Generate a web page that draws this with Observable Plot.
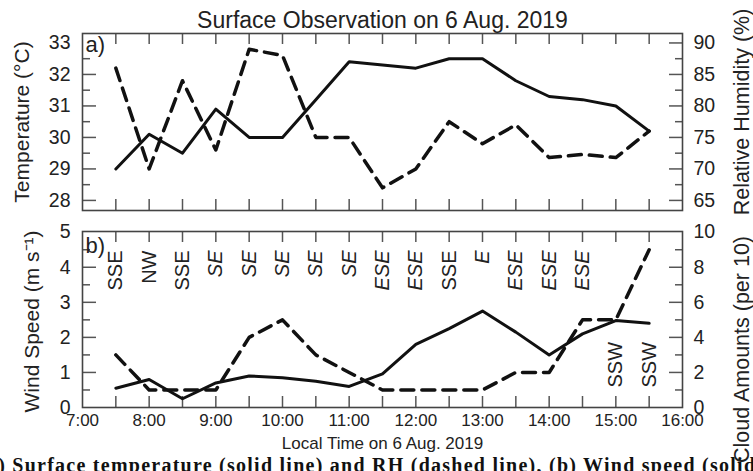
<!DOCTYPE html>
<html><head><meta charset="utf-8">
<script src="https://cdn.jsdelivr.net/npm/d3@7"></script>
<script src="https://cdn.jsdelivr.net/npm/@observablehq/plot@0.6"></script>
<style>
body{margin:0;background:#fff;}
#wrap{position:relative;width:753px;height:471px;overflow:hidden;background:#fff;}
#top{position:absolute;left:0;top:0;}
#bot{position:absolute;left:0;top:220px;}
#cap{position:absolute;left:-21px;top:455px;white-space:nowrap;font-family:"Liberation Serif","Times New Roman",serif;font-size:20px;line-height:20px;font-weight:bold;color:#111;letter-spacing:1.25px;}
</style></head><body>
<div id="wrap"><div id="top"></div><div id="bot"></div>
<div id="cap">(a) Surface temperature (solid line) and RH (dashed line), (b) Wind speed (solid line) and cloud amounts (dashed line)</div></div>
<script>
// ---- data ----
const times = [7.5, 8, 8.5, 9, 9.5, 10, 10.5, 11, 11.5, 12, 12.5, 13, 13.5, 14, 14.5, 15, 15.5];
const temperature = [29.0, 30.1, 29.5, 30.9, 30.0, 30.0, 31.2, 32.4, 32.3, 32.2, 32.5, 32.5, 31.8, 31.3, 31.2, 31.0, 30.2];
const humidity = [86, 70, 84, 73, 89, 88, 75, 75, 67, 70, 77.5, 74, 77, 71.8, 72.3, 71.8, 76];
const windSpeed = [0.55, 0.8, 0.25, 0.7, 0.9, 0.85, 0.75, 0.6, 0.96, 1.8, 2.25, 2.75, 2.15, 1.5, 2.1, 2.48, 2.4];
const cloudAmount = [3, 1, 1, 1, 4, 5, 3, 2, 1, 1, 1, 1, 2, 2, 5, 5, 9];
const windDir = ["SSE","NW","SSE","SE","SE","SE","SE","SE","ESE","ESE","SSE","E","ESE","ESE","ESE","SSW","SSW"];

const hourTicks = [7, 8, 9, 10, 11, 12, 13, 14, 15, 16];
const halfHourTicks = [7.5, 8, 8.5, 9, 9.5, 10, 10.5, 11, 11.5, 12, 12.5, 13, 13.5, 14, 14.5, 15, 15.5];
const tempTicks = [28, 29, 30, 31, 32, 33];
const tempMinor = [28.5, 29.5, 30.5, 31.5, 32.5];
const rhTicks = [65, 70, 75, 80, 85, 90];
const rhMinor = [67.5, 72.5, 77.5, 82.5, 87.5];
const wsTicks = [0, 1, 2, 3, 4, 5];
const wsMinor = [0.5, 1.5, 2.5, 3.5, 4.5];
const cloudTicks = [0, 2, 4, 6, 8, 10];
const cloudMinor = [1, 3, 5, 7, 9];

const rows = times.map((t, i) => ({t, temp: temperature[i], rh: humidity[i], ws: windSpeed[i], cl: cloudAmount[i], dir: windDir[i]}));

// secondary-axis mappings
const rhToT = rh => 28 + (rh - 65) / 5;
const tToRh = t => String(Math.round(65 + (t - 28) * 5));
const clToWs = c => c / 2;
const wsToCl = w => String(Math.round(w * 2));
const intFmt = d => String(Math.round(d));

const FONT = "Liberation Sans, Arial, Helvetica, sans-serif";
const INK = "#222";
const TICK = "#555";
const FW = 600; // frame width
const H1 = 177, H2 = 176;
const hourFmt = d => d + ":00";
const italicDirs = new Set(["SE", "ESE", "E"]);
const DASH = "13,8";

function frameTicks(H, leftMajor, leftMinor, rightMajor, rightMinor) {
  return [
    Plot.ruleX(halfHourTicks, {x: d => d, insetTop: H - 11, stroke: TICK, strokeWidth: 1.5}),
    Plot.ruleX(halfHourTicks, {x: d => d, insetBottom: H - 11, stroke: TICK, strokeWidth: 1.5}),
    Plot.ruleY(leftMajor, {y: d => d, insetRight: FW - 14, stroke: TICK, strokeWidth: 1.5}),
    Plot.ruleY(leftMinor, {y: d => d, insetRight: FW - 8, stroke: TICK, strokeWidth: 1.5}),
    Plot.ruleY(rightMajor, {y: d => d, insetLeft: FW - 13, stroke: TICK, strokeWidth: 1.5}),
    Plot.ruleY(rightMinor, {y: d => d, insetLeft: FW - 7, stroke: TICK, strokeWidth: 1.5})
  ];
}

const topPlot = Plot.plot({
  width: 753, height: 220,
  marginLeft: 82, marginRight: 71, marginTop: 33, marginBottom: 10,
  style: {fontFamily: FONT, fontSize: "19px", color: INK, background: "white", overflow: "visible"},
  x: {domain: [7, 16], axis: null},
  y: {domain: [27.68, 33.30], axis: null},
  marks: [
    ...frameTicks(H1, tempTicks.filter(d => d < 33), tempMinor, rhTicks.map(rhToT), rhMinor.map(rhToT)),
    Plot.frame({stroke: "#444", strokeWidth: 1.6}),
    Plot.axisY({anchor: "left", ticks: tempTicks, tickSize: 0, tickPadding: 12, tickFormat: intFmt, label: null, fontSize: 19.5}),
    Plot.axisY({anchor: "right", ticks: rhTicks.map(rhToT), tickSize: 0, tickPadding: 11, tickFormat: tToRh, label: null, fontSize: 19.5}),
    Plot.line(rows, {x: "t", y: "temp", stroke: "#111", strokeWidth: 3}),
    Plot.line(rows, {x: "t", y: d => rhToT(d.rh), stroke: "#111", strokeWidth: 3.5, strokeDasharray: DASH}),
    Plot.text(["a)"], {frameAnchor: "top-left", dx: 3, dy: 3, lineAnchor: "top", textAnchor: "start", fontSize: 22, fill: INK}),
    Plot.text(["Surface Observation on 6 Aug. 2019"], {frameAnchor: "top", dy: -6, lineAnchor: "bottom", textAnchor: "middle", fontSize: 23, fill: INK}),
    Plot.text(["Temperature (°C)"], {frameAnchor: "left", dx: -60, rotate: -90, textAnchor: "middle", lineAnchor: "middle", fontSize: 21, fill: INK}),
    Plot.text(["Relative Humidity (%)"], {frameAnchor: "right", dx: 60, dy: -10, rotate: -90, textAnchor: "middle", lineAnchor: "middle", fontSize: 21.5, fill: INK})
  ]
});

const botPlot = Plot.plot({
  width: 753, height: 251,
  marginLeft: 82, marginRight: 71, marginTop: 11, marginBottom: 64,
  style: {fontFamily: FONT, fontSize: "19px", color: INK, background: "white", overflow: "visible"},
  x: {domain: [7, 16], axis: null},
  y: {domain: [0, 5.02], axis: null},
  marks: [
    ...frameTicks(H2, wsTicks.filter(d => d > 0 && d < 5), wsMinor, cloudTicks.filter(d => d > 0 && d < 10).map(clToWs), cloudMinor.map(clToWs)),
    Plot.frame({stroke: "#444", strokeWidth: 1.6}),
    Plot.axisY({anchor: "left", ticks: wsTicks, tickSize: 0, tickPadding: 12, tickFormat: intFmt, label: null, fontSize: 19.5}),
    Plot.axisY({anchor: "right", ticks: cloudTicks.map(clToWs), tickSize: 0, tickPadding: 11, tickFormat: wsToCl, label: null, fontSize: 19.5}),
    Plot.axisX({anchor: "bottom", ticks: hourTicks, tickSize: 0, tickPadding: 6, tickFormat: hourFmt, label: null, fontSize: 17}),
    Plot.line(rows, {x: "t", y: "ws", stroke: "#111", strokeWidth: 3}),
    Plot.line(rows, {x: "t", y: d => clToWs(d.cl), stroke: "#111", strokeWidth: 3.5, strokeDasharray: DASH}),
    Plot.text(rows.filter(d => d.dir !== "SSW" && !italicDirs.has(d.dir)), {x: "t", text: "dir", frameAnchor: "top", dy: 19, rotate: -90, textAnchor: "end", lineAnchor: "middle", fontSize: 20, fill: INK}),
    Plot.text(rows.filter(d => italicDirs.has(d.dir)), {x: "t", text: "dir", frameAnchor: "top", dy: 19, rotate: -90, textAnchor: "end", lineAnchor: "middle", fontSize: 20, fontStyle: "italic", fill: INK}),
    Plot.text(rows.filter(d => d.dir === "SSW"), {x: "t", text: "dir", frameAnchor: "bottom", dy: -20, rotate: -90, textAnchor: "start", lineAnchor: "middle", fontSize: 20, fill: INK}),
    Plot.text(["b)"], {frameAnchor: "top-left", dx: 3, dy: 6, lineAnchor: "top", textAnchor: "start", fontSize: 22, fill: INK}),
    Plot.text(["Local Time on 6 Aug. 2019"], {frameAnchor: "bottom", dy: 41, lineAnchor: "bottom", textAnchor: "middle", fontSize: 17, fill: INK}),
    Plot.text(["Wind Speed (m s⁻¹)"], {frameAnchor: "left", dx: -50, dy: 2, rotate: -90, textAnchor: "middle", lineAnchor: "middle", fontSize: 21, fill: INK}),
    Plot.text(["Cloud Amounts (per 10)"], {frameAnchor: "right", dx: 60, dy: 30, rotate: -90, textAnchor: "middle", lineAnchor: "middle", fontSize: 21.5, fill: INK})
  ]
});

document.getElementById("top").appendChild(topPlot);
document.getElementById("bot").appendChild(botPlot);
</script>
</body></html>
